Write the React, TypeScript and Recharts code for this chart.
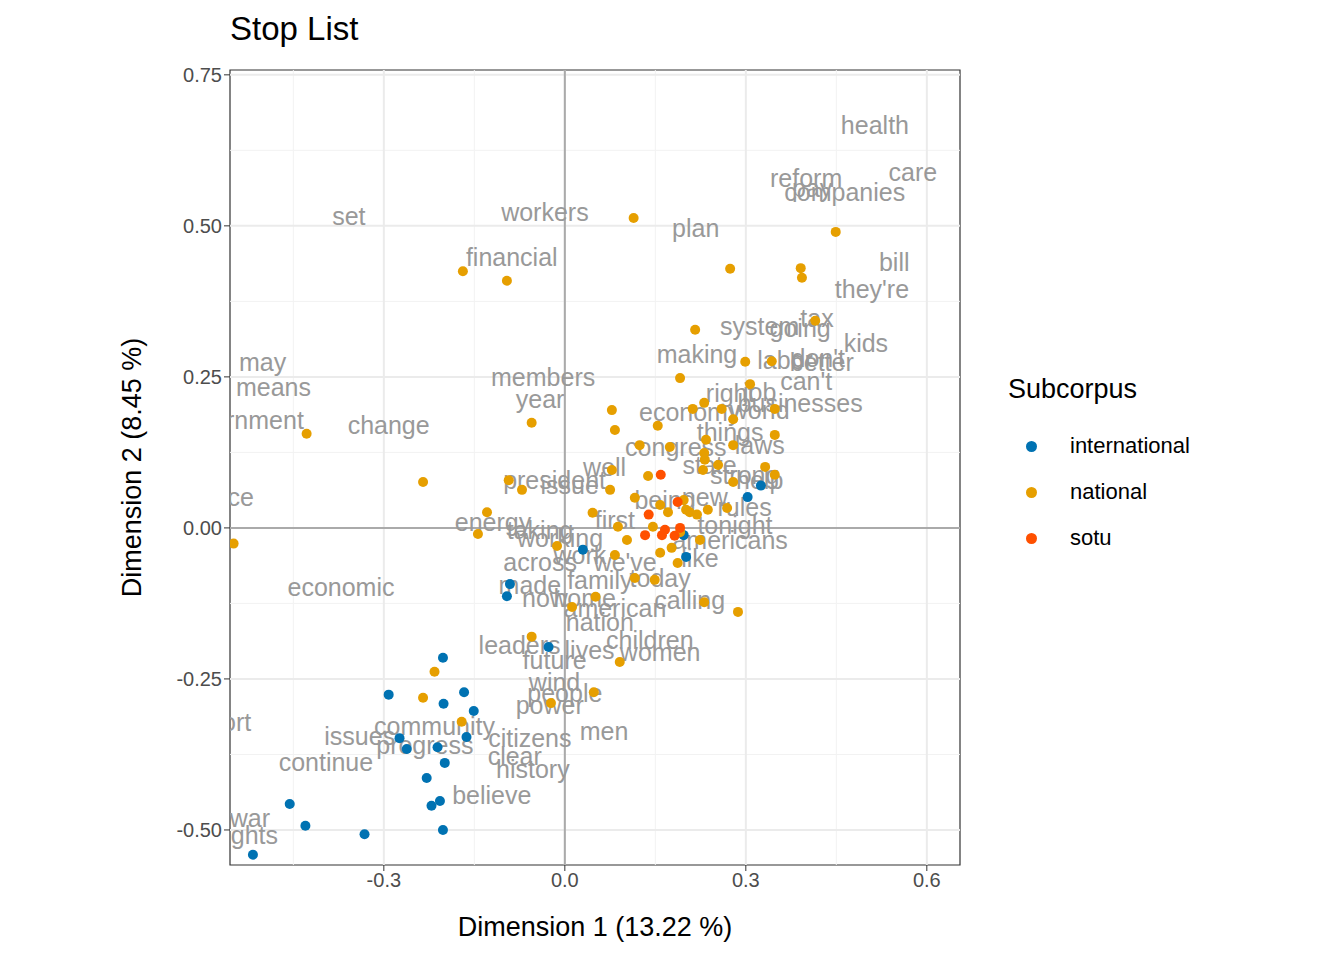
import React from "react";
import { ScatterChart, Scatter, XAxis, YAxis, ReferenceLine, ReferenceArea } from "recharts";

const international: [number, number][] = [
  [0.030,-0.036],[-0.091,-0.093],[-0.096,-0.113],[-0.027,-0.197],[-0.202,-0.215],[-0.292,-0.276],
  [-0.167,-0.272],[-0.201,-0.291],[-0.151,-0.303],[-0.274,-0.348],[-0.262,-0.366],[-0.211,-0.363],
  [-0.163,-0.346],[-0.199,-0.389],[-0.229,-0.414],[-0.207,-0.452],[-0.221,-0.460],[-0.456,-0.457],
  [-0.430,-0.493],[-0.332,-0.507],[-0.202,-0.500],[-0.517,-0.541],[0.303,0.051],[0.325,0.070],
  [0.197,-0.012],[0.201,-0.048],
];
const national: [number, number][] = [
  [0.114,0.513],[-0.169,0.425],[-0.096,0.409],[0.449,0.490],[0.274,0.429],[0.391,0.430],[0.393,0.414],
  [0.216,0.328],[0.415,0.343],[0.299,0.275],[0.343,0.276],[0.191,0.248],[0.307,0.238],[0.260,0.197],
  [0.212,0.197],[0.231,0.207],[0.078,0.195],[0.083,0.162],[0.154,0.169],[0.279,0.180],[0.348,0.197],
  [0.348,0.154],[-0.055,0.174],[-0.428,0.156],[-0.235,0.076],[-0.549,-0.026],[0.174,0.134],[0.234,0.146],
  [0.231,0.124],[0.232,0.113],[0.229,0.096],[0.279,0.137],[0.254,0.104],[0.332,0.101],[0.348,0.088],
  [0.279,0.076],[0.124,0.137],[0.078,0.096],[0.075,0.063],[-0.093,0.079],[-0.071,0.063],[-0.129,0.026],
  [-0.144,-0.010],[-0.013,-0.030],[0.046,0.025],[0.116,0.050],[0.158,0.038],[0.171,0.026],[0.201,0.030],
  [0.237,0.030],[0.269,0.033],[0.197,0.046],[0.088,0.002],[0.103,-0.020],[0.146,0.002],[0.191,-0.007],
  [0.224,-0.020],[0.158,-0.041],[0.187,-0.058],[0.116,-0.083],[0.149,-0.086],[0.051,-0.114],[0.012,-0.131],
  [0.287,-0.139],[0.231,-0.123],[-0.055,-0.180],[0.091,-0.222],[-0.216,-0.238],[-0.171,-0.321],
  [-0.235,-0.281],[0.048,-0.272],[-0.023,-0.290],[0.138,0.086],[0.207,0.026],[0.177,-0.033],[0.083,-0.045],
  [0.219,0.022],
];
const sotu: [number, number][] = [
  [0.159,0.088],[0.187,0.043],[0.139,0.022],[0.133,-0.012],[0.161,-0.012],[0.182,-0.013],[0.166,-0.003],[0.191,0.000],
];
const words: [string, number, number][] = [
  ["health",0.514,0.667],["care",0.577,0.589],["reform",0.400,0.579],["pay",0.410,0.563],["companies",0.464,0.556],
  ["bill",0.546,0.440],["they're",0.509,0.396],["set",-0.358,0.517],["workers",-0.033,0.523],["plan",0.217,0.497],
  ["financial",-0.088,0.449],["tax",0.418,0.348],["system",0.323,0.334],["going",0.390,0.331],["kids",0.499,0.306],
  ["making",0.219,0.288],["labor",0.365,0.278],["don't",0.420,0.281],["better",0.426,0.275],["may",-0.501,0.275],
  ["means",-0.483,0.233],["members",-0.036,0.250],["can't",0.400,0.243],["year",-0.041,0.214],["right",0.274,0.224],
  ["job",0.323,0.225],["businesses",0.390,0.207],["government",-0.542,0.179],["change",-0.292,0.171],
  ["economy",0.207,0.192],["world",0.323,0.195],["things",0.274,0.159],["congress",0.184,0.134],["laws",0.323,0.137],
  ["peace",-0.572,0.051],["well",0.066,0.101],["president",-0.017,0.079],["issue",0.008,0.071],["state",0.240,0.104],
  ["strong",0.298,0.088],["help",0.323,0.079],["being",0.166,0.046],["new",0.232,0.051],["rules",0.298,0.035],
  ["energy",-0.119,0.010],["taking",-0.041,-0.003],["working",-0.008,-0.017],["first",0.083,0.013],
  ["tonight",0.282,0.005],["americans",0.274,-0.020],["across",-0.041,-0.056],["work",0.025,-0.045],
  ["we've",0.100,-0.056],["like",0.224,-0.050],["economic",-0.371,-0.098],["made",-0.058,-0.094],
  ["today",0.158,-0.083],["family",0.058,-0.086],["home",0.033,-0.116],["now",-0.033,-0.116],
  ["american",0.083,-0.132],["calling",0.207,-0.119],["nation",0.058,-0.156],["children",0.141,-0.185],
  ["leaders",-0.075,-0.194],["lives",0.041,-0.202],["women",0.158,-0.205],["future",-0.017,-0.219],
  ["wind",-0.017,-0.255],["people",0.000,-0.273],["power",-0.025,-0.293],["support",-0.589,-0.321],
  ["community",-0.216,-0.328],["men",0.065,-0.336],["issues",-0.340,-0.344],["progress",-0.232,-0.359],
  ["citizens",-0.058,-0.348],["continue",-0.396,-0.387],["clear",-0.083,-0.377],["history",-0.053,-0.399],
  ["believe",-0.121,-0.442],["war",-0.522,-0.480],["rights",-0.526,-0.508],
];

const xTicks = [-0.3, 0, 0.3, 0.6];
const yTicks = [-0.5, -0.25, 0, 0.25, 0.5, 0.75];
const xMinor = [-0.45, -0.15, 0.15, 0.45];
const yMinor = [-0.375, -0.125, 0.125, 0.375, 0.625];

const series = [
  { name: "international", color: "#0072B2", pts: international },
  { name: "national", color: "#E69F00", pts: national },
  { name: "sotu", color: "#FF5000", pts: sotu },
];

const toObj = (a: [number, number][]) => a.map(([x, y]) => ({ x, y }));
const wordData = words.map(([w, x, y]) => ({ w, x, y }));
const font = "'Liberation Sans', Arial, sans-serif";
const fmtX = (v: number) => (v === 0 ? "0.0" : v.toFixed(1));
const fmtY = (v: number) => v.toFixed(2);

const WordShape = (p: any) => (
  <text x={p.cx} y={p.cy} textAnchor="middle" dominantBaseline="central" fill="#999999" fontSize={25} fontFamily={font}>
    {p.payload.w}
  </text>
);

export default function App() {
  return (
    <div style={{ position: "relative", width: 1344, height: 960, margin: -8, fontFamily: font }}>
      <ScatterChart width={1344} height={960} margin={{ top: 70, right: 384, bottom: 55, left: 150 }}>
        <XAxis type="number" dataKey="x" domain={[-0.555, 0.655]} allowDataOverflow ticks={xTicks}
          tickFormatter={fmtX} axisLine={false} tickLine={{ stroke: "#333" }} height={40}
          tick={{ fill: "#4d4d4d", fontSize: 20, fontFamily: font }}
          label={{ value: "Dimension 1 (13.22 %)", position: "insideBottom", offset: -31, fill: "#000", fontSize: 27, fontFamily: font }} />
        <YAxis type="number" dataKey="y" domain={[-0.558, 0.758]} allowDataOverflow ticks={yTicks}
          tickFormatter={fmtY} axisLine={false} tickLine={{ stroke: "#333" }} width={80}
          tick={{ fill: "#4d4d4d", fontSize: 20, fontFamily: font }}
          label={{ value: "Dimension 2 (8.45 %)", angle: -90, position: "insideLeft", offset: -19, style: { textAnchor: "middle" }, fill: "#000", fontSize: 27, fontFamily: font }} />
        {xMinor.map((v) => <ReferenceLine key={"xm" + v} x={v} stroke="#f2f2f2" strokeWidth={1} />)}
        {yMinor.map((v) => <ReferenceLine key={"ym" + v} y={v} stroke="#f2f2f2" strokeWidth={1} />)}
        {xTicks.map((v) => <ReferenceLine key={"x" + v} x={v} stroke="#ebebeb" strokeWidth={2} />)}
        {yTicks.map((v) => <ReferenceLine key={"y" + v} y={v} stroke="#ebebeb" strokeWidth={2} />)}
        <ReferenceLine x={0} stroke="#aaaaaa" strokeWidth={2} />
        <ReferenceLine y={0} stroke="#aaaaaa" strokeWidth={2} />
        <Scatter data={wordData} isAnimationActive={false} shape={WordShape} />
        {series.map((s) => (
          <Scatter key={s.name} data={toObj(s.pts)} fill={s.color} isAnimationActive={false}
            shape={(p: any) => <circle cx={p.cx} cy={p.cy} r={5} fill={s.color} />} />
        ))}
        <ReferenceArea x1={-0.555} x2={0.655} y1={-0.558} y2={0.758} fill="none" stroke="#333" strokeWidth={1.2} ifOverflow="visible" />
      </ScatterChart>
      <div style={{ position: "absolute", left: 230, top: 10, fontSize: 33, color: "#000" }}>Stop List</div>
      <div style={{ position: "absolute", left: 1008, top: 374, fontSize: 27, color: "#000" }}>Subcorpus</div>
      {series.map((s, i) => (
        <div key={s.name} style={{ position: "absolute", left: 1024, top: 432 + i * 46, height: 28, display: "flex", alignItems: "center" }}>
          <span style={{ width: 11, height: 11, borderRadius: "50%", background: s.color, display: "inline-block", marginLeft: 2 }} />
          <span style={{ marginLeft: 33, fontSize: 22, color: "#000" }}>{s.name}</span>
        </div>
      ))}
    </div>
  );
}
